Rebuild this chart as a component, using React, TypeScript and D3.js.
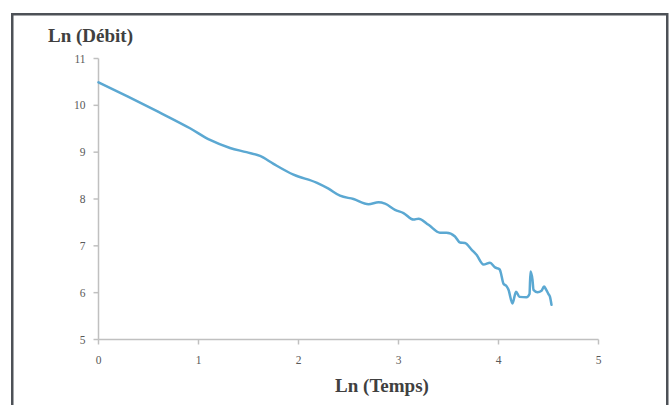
import React from "react";
import * as d3 from "d3";

const lnTemps: number[] = [0, 0.3, 0.6, 0.915, 1.115, 1.315, 1.48, 1.615, 1.75, 1.95, 2.18, 2.3, 2.415, 2.55, 2.7, 2.8, 2.865, 2.965, 3.05, 3.15, 3.2, 3.3, 3.415, 3.48, 3.565, 3.615, 3.665, 3.73, 3.78, 3.85, 3.915, 3.965, 4.01, 4.02, 4.05, 4.08, 4.1, 4.14, 4.175, 4.21, 4.28, 4.31, 4.32, 4.34, 4.35, 4.39, 4.43, 4.455, 4.475, 4.5, 4.515, 4.53];
const lnDebit: number[] = [10.49, 10.18, 9.86, 9.51, 9.26, 9.09, 9.0, 8.92, 8.75, 8.52, 8.35, 8.22, 8.07, 8.0, 7.89, 7.93, 7.9, 7.77, 7.7, 7.56, 7.58, 7.45, 7.28, 7.28, 7.2, 7.07, 7.06, 6.92, 6.81, 6.6, 6.64, 6.54, 6.5, 6.45, 6.19, 6.14, 6.06, 5.77, 6.02, 5.91, 5.9, 5.97, 6.45, 6.27, 6.06, 6.01, 6.04, 6.13, 6.07, 5.97, 5.91, 5.74];
const xTicks: number[] = [0, 1, 2, 3, 4, 5];
const yTicks: number[] = [5, 6, 7, 8, 9, 10, 11];
const xTitle = "Ln (Temps)";
const yTitle = "Ln (Débit)";

export default function App() {
  const W = 669, H = 405;
  const x = d3.scaleLinear().domain([0, 5]).range([98.5, 598.5]);
  const y = d3.scaleLinear().domain([5, 11]).range([339.5, 58.5]);
  const pts: [number, number][] = lnTemps.map((t, i) => [t, lnDebit[i]]);
  const line = d3.line<[number, number]>().x(d => x(d[0])).y(d => y(d[1])).curve(d3.curveMonotoneX);
  const axisColor = "#c0c0c0";
  const textColor = "#595959";
  const font = "'Liberation Serif', 'DejaVu Serif', serif";
  return (
    <svg width={W} height={H} style={{ position: "absolute", left: 0, top: 0, background: "#fff" }}>
      <rect x={12.25} y={14.25} width={655} height={420} fill="#fff" stroke="#4d5157" strokeWidth={2.5} />
      <line x1={x(0)} x2={x(0)} y1={y(11)} y2={y(5)} stroke={axisColor} strokeWidth={1.5} />
      <line x1={x(0)} x2={x(5)} y1={y(5)} y2={y(5)} stroke={axisColor} strokeWidth={1.5} />
      {yTicks.map(v => (
        <g key={"y" + v}>
          <line x1={x(0) - 5} x2={x(0)} y1={y(v)} y2={y(v)} stroke={axisColor} strokeWidth={1.5} />
          <text x={x(0) - 13} y={y(v)} dy="0.35em" textAnchor="end" fontSize={11.5} fill={textColor} fontFamily={font}>{v}</text>
        </g>
      ))}
      {xTicks.map(v => (
        <g key={"x" + v}>
          <line x1={x(v)} x2={x(v)} y1={y(5)} y2={y(5) + 5} stroke={axisColor} strokeWidth={1.5} />
          <text x={x(v)} y={y(5) + 24} textAnchor="middle" fontSize={11.5} fill={textColor} fontFamily={font}>{v}</text>
        </g>
      ))}
      <path d={line(pts) || ""} fill="none" stroke="#5ba8d2" strokeWidth={2.5} strokeLinejoin="round" strokeLinecap="round" />
      <text x={48} y={42} fontSize={19} fontWeight="bold" fill="#404040" fontFamily={font}>{yTitle}</text>
      <text x={382} y={392} textAnchor="middle" fontSize={19} fontWeight="bold" fill="#404040" fontFamily={font}>{xTitle}</text>
    </svg>
  );
}
